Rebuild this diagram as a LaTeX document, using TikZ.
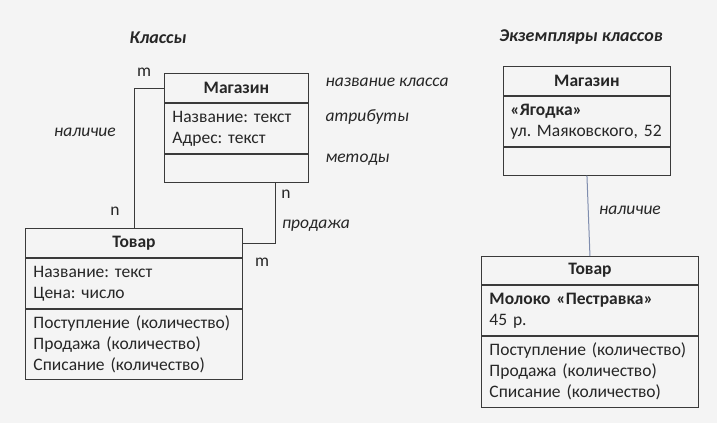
\documentclass[tikz,border=0pt]{standalone}
\usepackage{fontspec}
\setmainfont{Carlito}
\usetikzlibrary{positioning,calc}
\definecolor{bgcol}{HTML}{F4F4F4}
\definecolor{linecol}{HTML}{3A3A3A}
\definecolor{linkcol}{HTML}{7F8DAE}
\newcommand{\ufont}{\fontsize{17.5}{21}\selectfont\frenchspacing}
\tikzset{
	part/.style={draw=linecol,line width=0.9pt,inner ysep=0pt,inner xsep=8pt,text=black!85},
	head/.style 2 args={part,minimum width=#1,minimum height=#2,font=\ufont\bfseries},
	body/.style 2 args={part,text width=#1,minimum height=#2,align=left,font=\ufont},
	note/.style={font=\ufont\itshape,text=black!85},
	mult/.style={font=\ufont,text=black!85},
	title/.style={font=\fontsize{18}{21}\selectfont\bfseries\itshape,text=black!85},
}

\begin{document}
\begin{tikzpicture}[x=1pt,y=-1pt]
	\fill[bgcol] (0,0) rectangle (717,423);

	% classes
	\node[title] (tclass) at (158,38) {Классы};
	\node[head={144pt}{29pt},anchor=north west] (mag-head) at (164,73) {Магазин};
	\node[body={128pt}{50pt},below=0pt of mag-head] (mag-attr) {Название: текст\\Адрес: текст};
	\node[body={128pt}{28pt},below=0pt of mag-attr] (mag-meth) {};

	\node[note,anchor=west] (n-name) at (322,82) {название класса};
	\node[note,anchor=west] (n-attr) at (322,117) {атрибуты};
	\node[note,anchor=west] (n-meth) at (322,160) {методы};

	\node[head={217pt}{29pt},anchor=north west] (tov-head) at (25,228) {Товар};
	\node[body={201pt}{50pt},below=0pt of tov-head] (tov-attr) {Название: текст\\Цена: число};
	\node[body={201pt}{70pt},below=0pt of tov-attr] (tov-meth) {Поступление (количество)\\Продажа (количество)\\Списание (количество)};

	\coordinate (sale) at ([xshift=39pt]mag-meth.south);
	\draw[linecol,line width=0.9pt] (mag-head.west) -| (tov-head.north);
	\draw[linecol,line width=0.9pt] (tov-head.east) -| (sale);
	\node[note] (l-have) at (85,132) {наличие};
	\node[note] (l-sale) at (316,226) {продажа};
	\node[mult] (m1) at (144,72) {m};
	\node[mult] (n1) at (115,211) {n};
	\node[mult] (n2) at (286,194) {n};
	\node[mult] (m2) at (262,262) {m};

	% instances
	\node[title] (tinst) at (581,37) {Экземпляры классов};
	\node[head={167pt}{29pt},anchor=north west] (imag-head) at (503,66) {Магазин};
	\node[body={153pt}{50pt},inner xsep=7pt,below=0pt of imag-head] (imag-attr) {\textbf{«Ягодка»}\\\mbox{ул. Маяковского, 52}};
	\node[body={153pt}{28pt},inner xsep=7pt,below=0pt of imag-attr] (imag-meth) {};

	\node[head={217pt}{28pt},anchor=north west] (itov-head) at (481,256) {Товар};
	\node[body={201pt}{50pt},below=0pt of itov-head] (itov-attr) {\textbf{Молоко «Пестравка»}\\45 р.};
	\node[body={201pt}{71pt},below=0pt of itov-attr] (itov-meth) {Поступление (количество)\\Продажа (количество)\\Списание (количество)};

	\draw[linkcol,line width=1pt] (imag-meth.south) -- (itov-head.north);
	\node[note] (l-ihave) at (630,210) {наличие};
\end{tikzpicture}
\end{document}
